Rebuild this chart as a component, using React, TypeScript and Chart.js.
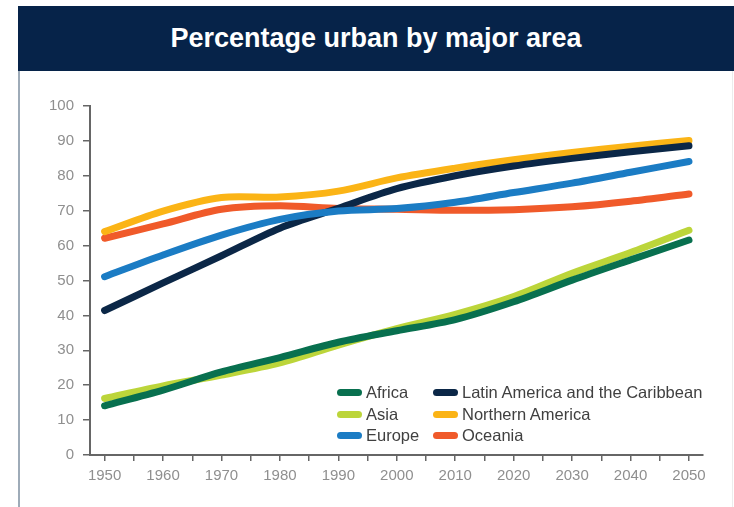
import React, { useEffect, useRef } from "react";
import { Chart, registerables } from "chart.js";

Chart.register(...registerables);

const years = [1950, 1960, 1970, 1980, 1990, 2000, 2010, 2020, 2030, 2040, 2050];
const xTickYears = [1950, 1955, 1960, 1965, 1970, 1975, 1980, 1985, 1990, 1995, 2000, 2005, 2010, 2015, 2020, 2025, 2030, 2035, 2040, 2045, 2050];

const africa = [14.1, 18.6, 23.8, 27.9, 32.3, 35.6, 38.8, 43.9, 50.1, 55.9, 61.6];
const asia = [16.2, 19.8, 22.9, 26.4, 31.5, 36.2, 40.3, 45.4, 52.1, 58.0, 64.4];
const europe = [51.1, 57.3, 63.0, 67.5, 69.9, 70.6, 72.4, 75.2, 77.9, 81.0, 84.1];
const latinAmerica = [41.4, 49.3, 57.1, 65.0, 70.7, 76.3, 80.0, 82.8, 85.0, 86.9, 88.6];
const northernAmerica = [64.0, 69.9, 73.8, 73.9, 75.6, 79.4, 82.2, 84.6, 86.7, 88.5, 90.1];
const oceania = [62.1, 66.2, 70.4, 71.4, 70.6, 70.4, 70.1, 70.3, 71.1, 72.7, 74.8];

const seriesLabels = ["Africa", "Asia", "Europe", "Latin America and the Caribbean", "Northern America", "Oceania"];
const seriesValues = [africa, asia, europe, latinAmerica, northernAmerica, oceania];
const seriesColors = ["#08704f", "#bcd53a", "#1b7cc4", "#0b2747", "#fbb416", "#f05a2a"];

const FONT = "'Liberation Sans', Arial, Helvetica, sans-serif";

export default function App() {
  const ref = useRef<HTMLCanvasElement>(null);

  useEffect(() => {
    document.body.style.margin = "0";
    const canvas = ref.current;
    if (!canvas) return;
    const chart = new Chart(canvas, {
      type: "line",
      data: {
        datasets: seriesLabels.map((label, i) => ({
          label,
          data: years.map((y, j) => ({ x: y, y: seriesValues[i][j] })),
          borderColor: seriesColors[i],
          backgroundColor: seriesColors[i],
          borderWidth: 7,
          pointRadius: 0,
          pointHoverRadius: 0,
          tension: 0.3,
          borderCapStyle: "round",
          borderJoinStyle: "round",
          fill: false,
          clip: false,
        })),
      },
      options: {
        animation: false,
        responsive: false,
        maintainAspectRatio: false,
        layout: { padding: { top: 106, right: 31, left: 0, bottom: 0 } },
        plugins: {
          legend: { display: false },
          tooltip: { enabled: false },
          title: { display: false },
        },
        scales: {
          x: {
            type: "linear",
            min: 1947.5,
            max: 2052.4,
            afterBuildTicks: (s: any) => {
              s.ticks = xTickYears.map((v) => ({ value: v }));
            },
            afterFit: (s: any) => {
              s.height = 52;
            },
            ticks: {
              autoSkip: false,
              maxRotation: 0,
              minRotation: 0,
              padding: 6,
              color: "#8f8f8f",
              font: { family: FONT, size: 15 },
              callback: (v: any) => (Number(v) % 10 === 0 ? String(v) : ""),
            },
            grid: {
              drawOnChartArea: false,
              drawTicks: true,
              tickLength: 6,
              color: "#666666",
              lineWidth: 1.5,
            },
            border: { display: true, color: "#666666", width: 2 },
          },
          y: {
            min: 0,
            max: 100,
            afterFit: (s: any) => {
              s.width = 90;
            },
            ticks: {
              stepSize: 10,
              padding: 9,
              color: "#8f8f8f",
              font: { family: FONT, size: 15 },
            },
            grid: {
              drawOnChartArea: false,
              drawTicks: true,
              tickLength: 7,
              color: "#666666",
              lineWidth: 1.5,
            },
            border: { display: true, color: "#666666", width: 2 },
          },
        },
      },
    });
    return () => chart.destroy();
  }, []);

  const legendPos = [
    { left: 337, top: 392.5 },
    { left: 337, top: 414 },
    { left: 337, top: 435.5 },
    { left: 433, top: 392.5 },
    { left: 433, top: 414 },
    { left: 433, top: 435.5 },
  ];

  return (
    <div style={{ position: "relative", width: 734, height: 507, background: "#ffffff", overflow: "hidden", fontFamily: FONT }}>
      <canvas ref={ref} width={734} height={507} style={{ position: "absolute", left: 0, top: 0, width: 734, height: 507 }} />
      <div
        style={{
          position: "absolute",
          left: 18,
          top: 6,
          width: 716,
          height: 65,
          background: "#062349",
          color: "#ffffff",
          display: "flex",
          alignItems: "center",
          justifyContent: "center",
          fontWeight: "bold",
          fontSize: 27,
        }}
      >
        Percentage urban by major area
      </div>
      <div style={{ position: "absolute", left: 18, top: 71, width: 1.5, height: 436, background: "#9eabb8" }} />
      <div style={{ position: "absolute", left: 732, top: 71, width: 1, height: 436, background: "#ececec" }} />
      {seriesLabels.map((label, i) => (
        <div
          key={label}
          style={{
            position: "absolute",
            left: legendPos[i].left,
            top: legendPos[i].top - 10,
            height: 20,
            display: "flex",
            alignItems: "center",
            whiteSpace: "nowrap",
            fontSize: 16.5,
            color: "#404040",
          }}
        >
          <span style={{ display: "inline-block", width: 25, height: 7, borderRadius: 4, background: seriesColors[i], marginRight: 4 }} />
          <span>{label}</span>
        </div>
      ))}
    </div>
  );
}
